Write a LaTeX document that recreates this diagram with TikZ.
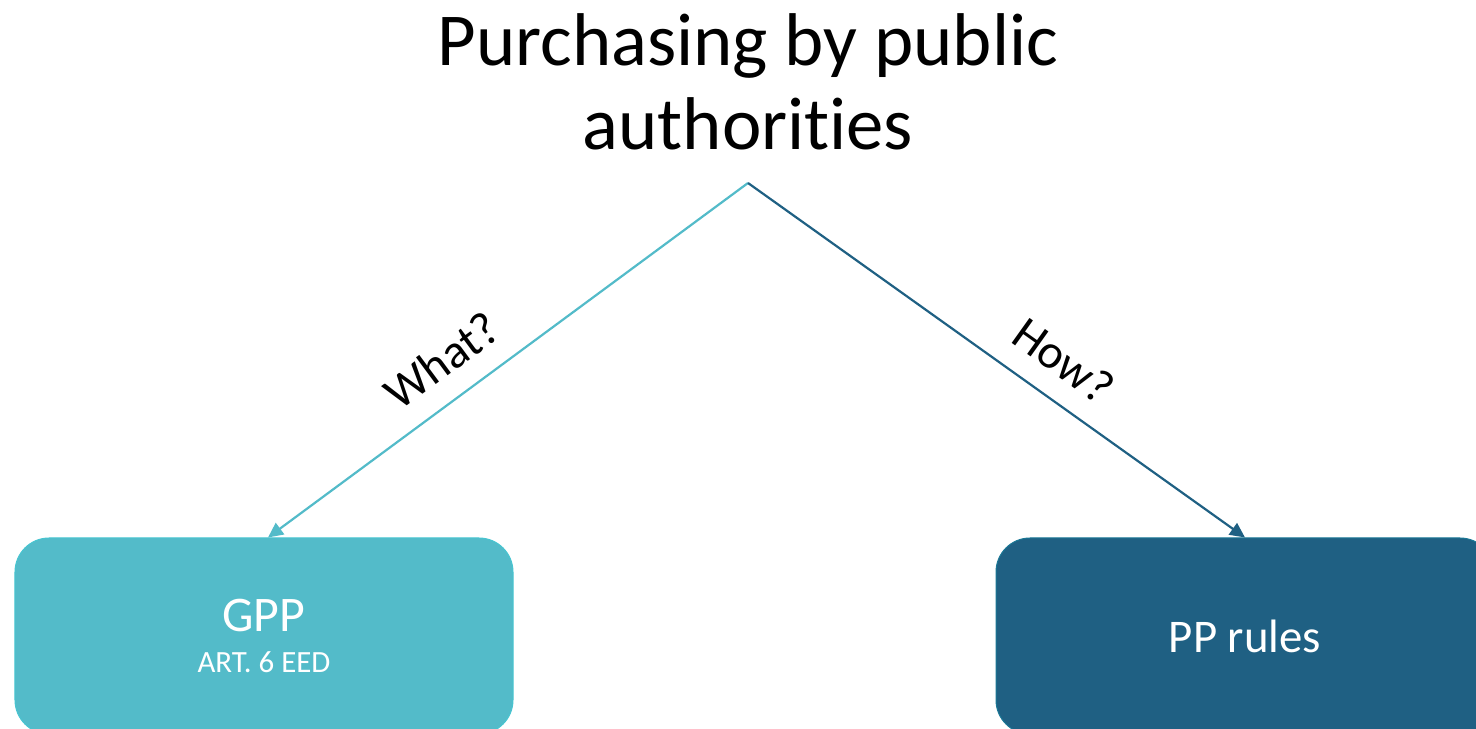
\documentclass[tikz,border=0pt]{standalone}
\usepackage{fontspec}
\setmainfont{Carlito}[Ligatures={NoCommon,NoContextual,NoRequired}]
\usepackage{xcolor}
\usetikzlibrary{arrows.meta}

\definecolor{whatcol}{RGB}{83,187,201}
\definecolor{howcol}{RGB}{31,96,131}

\tikzset{
  branch/.style={line width=2.2bp,-{Triangle[length=15bp,width=14bp]}},
  areabox/.style={rounded corners=34bp,minimum width=498bp,minimum height=196bp,
    text=white,align=center,line width=1bp},
  asklabel/.style={sloped,above=18bp,text=black,font=\fontsize{48}{54}\selectfont}
}

\begin{document}
\begin{tikzpicture}[x=1bp,y=1bp]
\clip (0,0) rectangle (1476,729);

% kern keeps the t and i apart
\node[align=center,inner sep=0pt,font=\fontsize{75}{84}\selectfont] (title) at (748,647)
  {Purchasing by public\\authorit\kern0pt ies};
\coordinate (top) at (748,546);

\node[areabox,fill=whatcol,draw=whatcol!85!cyan] (gpp) at (264,93)
  {\fontsize{50}{60}\selectfont GPP\\[18bp]{\fontsize{31}{36}\selectfont ART. 6 EED}};
\node[areabox,fill=howcol,draw=howcol!85!cyan,font=\fontsize{47}{56}\selectfont] (rules) at (1245,93)
  {PP rules};

\draw[branch,whatcol] (top) -- ([xshift=4bp]gpp.north) node[asklabel,pos=0.59] (what) {What?};
\draw[branch,howcol] (top) -- (rules.north) node[asklabel,pos=0.59] (how) {How?};
\end{tikzpicture}
\end{document}
